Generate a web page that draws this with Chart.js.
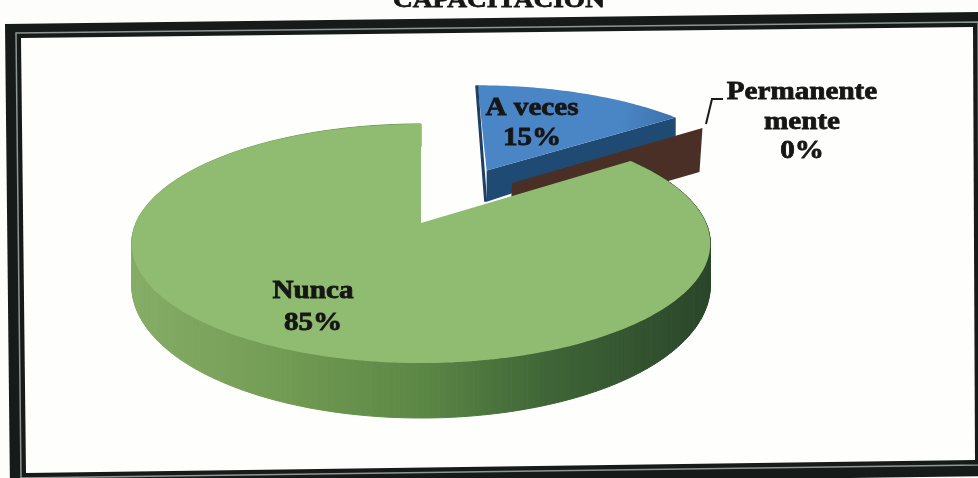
<!DOCTYPE html>
<html><head><meta charset="utf-8">
<style>html,body{margin:0;padding:0;background:#fdfdfc;overflow:hidden}canvas{display:block;filter:blur(0.5px)}</style>
<script src="https://cdn.jsdelivr.net/npm/chart.js@4"></script>
</head><body><canvas id="c" width="978" height="478"></canvas>
<script>
const titleText = "CAPACITACIÓN";
const categories = ["A veces", "Permanentemente", "Nunca"];
const labelLines = [["A veces"], ["Permanente", "mente"], ["Nunca"]];
const values = [15, 0, 85];
const faceColors = ["#4a86c6", "#4a2f27", "#8fbc70"];
const wallColors = ["#1f4a74", "#4a2f27", "#5f8c47"];
const explodePercent = [55, 47, 0];

// projection of the pie (style constants)
const P = {cx:421, cy:223, rx:285, ry:116, k:-0.1715};
function proj(u,v){const w=1+P.k*v;return [P.cx+P.rx*u/w, P.cy+P.ry*v/w];}
function depth(v){return 39+16*v;}
const labelPos = [[532,115],[802,99],[313,298]];
const LH = [30,29.5,32];

function quadPath(ctx,q){ctx.beginPath();q.forEach((p,i)=>i?ctx.lineTo(p[0],p[1]):ctx.moveTo(p[0],p[1]));ctx.closePath();}

const pie3d = {
  id:'pie3d',
  beforeDatasetsDraw(chart){
    const ctx = chart.ctx, meta = chart.getDatasetMeta(0), arcs = meta.data;
    ctx.save();
    // frame
    ctx.fillStyle='#161b1a';
    quadPath(ctx,[[5,24],[985,12],[990,476],[10,490]]);ctx.fill();
    ctx.fillStyle='#fefefd';
    quadPath(ctx,[[21,38],[973,27],[975,460],[26,473]]);ctx.fill();
    ctx.strokeStyle='#8f9593';ctx.lineWidth=1.5;
    quadPath(ctx,[[16,33],[978,22],[980,465],[21,478]]);ctx.stroke();
    // title
    textX(ctx,titleText,499,7,24,'center',1.14);

    const geo = arcs.map((el,i)=>{
      const a0=el.startAngle,a1=el.endAngle,mid=(a0+a1)/2,m=el.options.offset/100;
      let ou=Math.cos(mid)*m,ov=Math.sin(mid)*m;
      if(a1-a0<1e-6){ou-=0.04;ov-=0.09;}
      return {el,a0,a1,ou,ov,i};
    });
    const rim=(g,a)=>[g.ou+Math.cos(a),g.ov+Math.sin(a)];
    const N=a=>Math.max(2,Math.ceil(a*60));

    // small slice wall
    geo.forEach(g=>{
      const span=g.a1-g.a0; if(span<1e-6||span>Math.PI)return;
      const [u,v]=rim(g,g.a1);
      const top=proj(u,v),apex=proj(g.ou,g.ov);
      ctx.fillStyle=wallColors[g.i];
      quadPath(ctx,[apex,top,[top[0],top[1]+depth(v)],[apex[0],apex[1]+depth(g.ov)]]);ctx.fill();
    });
    // small slice face
    geo.forEach(g=>{
      const span=g.a1-g.a0; if(span<1e-6||span>Math.PI)return;
      const pts=[proj(g.ou,g.ov)];
      for(let s=0;s<=N(span);s++){const [u,v]=rim(g,g.a0+span*s/N(span));pts.push(proj(u,v));}
      const gr=ctx.createLinearGradient(480,90,680,130);
      gr.addColorStop(0,faceColors[g.i]);gr.addColorStop(.7,faceColors[g.i]);gr.addColorStop(1,'#3b70a8');
      ctx.fillStyle=gr;quadPath(ctx,pts);ctx.fill();
      const [su,sv]=rim(g,g.a0);const a=proj(su,sv),b=proj(g.ou,g.ov);
      ctx.strokeStyle='#1f3f63';ctx.lineWidth=3;ctx.beginPath();ctx.moveTo(a[0]-1,a[1]);ctx.lineTo(b[0]-1,b[1]+depth(g.ov));ctx.stroke();
    });
    // zero slice: only its radial wall shows
    geo.forEach(g=>{
      if(g.a1-g.a0>=1e-6)return;
      const [u,v]=rim(g,g.a0);
      const a=proj(g.ou,g.ov),b=proj(u,v);
      ctx.fillStyle=wallColors[g.i];
      quadPath(ctx,[a,b,[b[0]-3,b[1]+44],[a[0]-3,a[1]+44]]);ctx.fill();
    });
    // big slice wall + face
    geo.forEach(g=>{
      const span=g.a1-g.a0; if(span<=Math.PI)return;
      const n=N(span);
      const gr=ctx.createLinearGradient(130,0,708,0);
      gr.addColorStop(0,'#86ad66');gr.addColorStop(.25,'#739c54');gr.addColorStop(.5,'#5c8845');
      gr.addColorStop(.72,'#3f6537');gr.addColorStop(1,'#2a462a');
      ctx.fillStyle=gr;ctx.strokeStyle=gr;ctx.lineWidth=1;
      for(let s=0;s<n;s++){
        const A=rim(g,g.a0+span*s/n),B=rim(g,g.a0+span*(s+1)/n);
        const p=proj(A[0],A[1]),q=proj(B[0],B[1]);
        quadPath(ctx,[p,q,[q[0],q[1]+depth(B[1])],[p[0],p[1]+depth(A[1])]]);ctx.fill();ctx.stroke();
      }
      const pts=[proj(g.ou,g.ov)];
      for(let s=0;s<=n;s++){const [u,v]=rim(g,g.a0+span*s/n);pts.push(proj(u,v));}
      ctx.fillStyle=faceColors[g.i];quadPath(ctx,pts);ctx.fill();
    });
    // leader line
    ctx.strokeStyle='#1a1a1a';ctx.lineWidth=2;
    ctx.beginPath();ctx.moveTo(723,99);ctx.lineTo(712,99);ctx.lineTo(706,124);ctx.stroke();
    // labels
    const total=values.reduce((a,b)=>a+b,0);
    categories.forEach((c,i)=>{
      const lines=[...labelLines[i],Math.round(values[i]/total*100)+'%'];
      lines.forEach((t,j)=>textX(ctx,t,labelPos[i][0],labelPos[i][1]+j*LH[i],26,'center',1.12));
    });
    ctx.restore();
    return false;
  }
};
function textX(ctx,t,x,y,size,align,sx){
  ctx.save();ctx.translate(x,y);ctx.scale(sx,1);
  ctx.font='bold '+size+'px "Liberation Serif"';ctx.textAlign=align;ctx.textBaseline='alphabetic';
  ctx.fillStyle='#161616';ctx.fillText(t,0,0);
  ctx.strokeStyle='#161616';ctx.lineWidth=0.8;ctx.strokeText(t,0,0);
  ctx.restore();
}
new Chart(document.getElementById('c'),{
  type:'pie',
  data:{labels:categories,datasets:[{data:values,backgroundColor:faceColors,offset:explodePercent,borderWidth:0}]},
  options:{responsive:false,animation:false,plugins:{legend:{display:false},tooltip:{enabled:false},title:{display:false}}},
  plugins:[pie3d]
});
</script></body></html>
